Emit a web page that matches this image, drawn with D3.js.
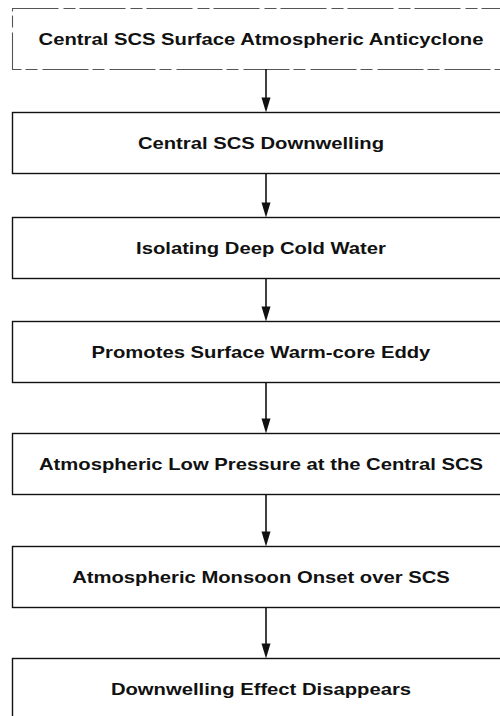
<!DOCTYPE html>
<html>
<head>
<meta charset="utf-8">
<script src="https://cdn.jsdelivr.net/npm/d3@7"></script>
<style>
    body { margin: 0; background: #fff; }
    svg { display: block; }
</style>
</head>
<body>
<div id="chart"></div>
<script>
var steps = [
    'Central SCS Surface Atmospheric Anticyclone',
    'Central SCS Downwelling',
    'Isolating Deep Cold Water',
    'Promotes Surface Warm-core Eddy',
    'Atmospheric Low Pressure at the Central SCS',
    'Atmospheric Monsoon Onset over SCS',
    'Downwelling Effect Disappears'
];

var links = [
    [0, 1], [1, 2], [2, 3], [3, 4], [4, 5], [5, 6]
];

var width = 500,
    height = 716,
    boxLeft = 12,
    boxRight = 522,
    boxH = 61,
    arrowX = 266,
    textX = 261,
    stretch = 1.19;

// rows are a little further apart in the lower half of the chart
var y = d3.scaleLinear()
    .domain([0, 3, 6])
    .range([8, 321, 658]);

var svg = d3.select('#chart').append('svg')
    .attr('width', width)
    .attr('height', height);

var boxes = svg.selectAll('.step')
    .data(steps)
  .enter().append('g')
    .attr('class', 'step');

boxes.append('rect')
    .attr('x', boxLeft + 0.5)
    .attr('y', function(d, i) { return Math.round(y(i)) + 0.5; })
    .attr('width', boxRight - boxLeft)
    .attr('height', boxH)
    .style('fill', 'none')
    .style('stroke', function(d, i) { return i === 0 ? '#555' : '#111'; })
    .style('stroke-width', function(d, i) { return i === 0 ? 1.1 : 1.4; })
    .style('stroke-dasharray', function(d, i) { return i === 0 ? '46,5,12,4' : null; });

boxes.append('text')
    .attr('x', textX)
    .attr('y', function(d, i) { return Math.round(y(i)) + boxH / 2 + 6; })
    .attr('text-anchor', 'middle')
    .style('font-family', '"Liberation Sans", Arial, sans-serif')
    .style('font-weight', 'bold')
    .style('font-size', '17px')
    .style('fill', '#111')
    .text(function(d) { return d; })
    .each(function() {
        var len = this.getComputedTextLength();
        d3.select(this)
            .attr('textLength', len * stretch)
            .attr('lengthAdjust', 'spacingAndGlyphs');
    });

var arrows = svg.selectAll('.arrow')
    .data(links)
  .enter().append('g')
    .attr('class', 'arrow');

arrows.append('line')
    .attr('x1', arrowX)
    .attr('x2', arrowX)
    .attr('y1', function(d) { return Math.round(y(d[0])) + boxH; })
    .attr('y2', function(d) { return Math.round(y(d[1])) - 8; })
    .style('stroke', '#111')
    .style('stroke-width', 1.6);

arrows.append('path')
    .attr('d', function(d) {
        var tip = Math.round(y(d[1])) + 0.5;
        return 'M' + (arrowX - 4.5) + ',' + (tip - 15) +
            'L' + (arrowX + 4.5) + ',' + (tip - 15) +
            'L' + arrowX + ',' + tip + 'Z';
    })
    .style('fill', '#111');
</script>
</body>
</html>
